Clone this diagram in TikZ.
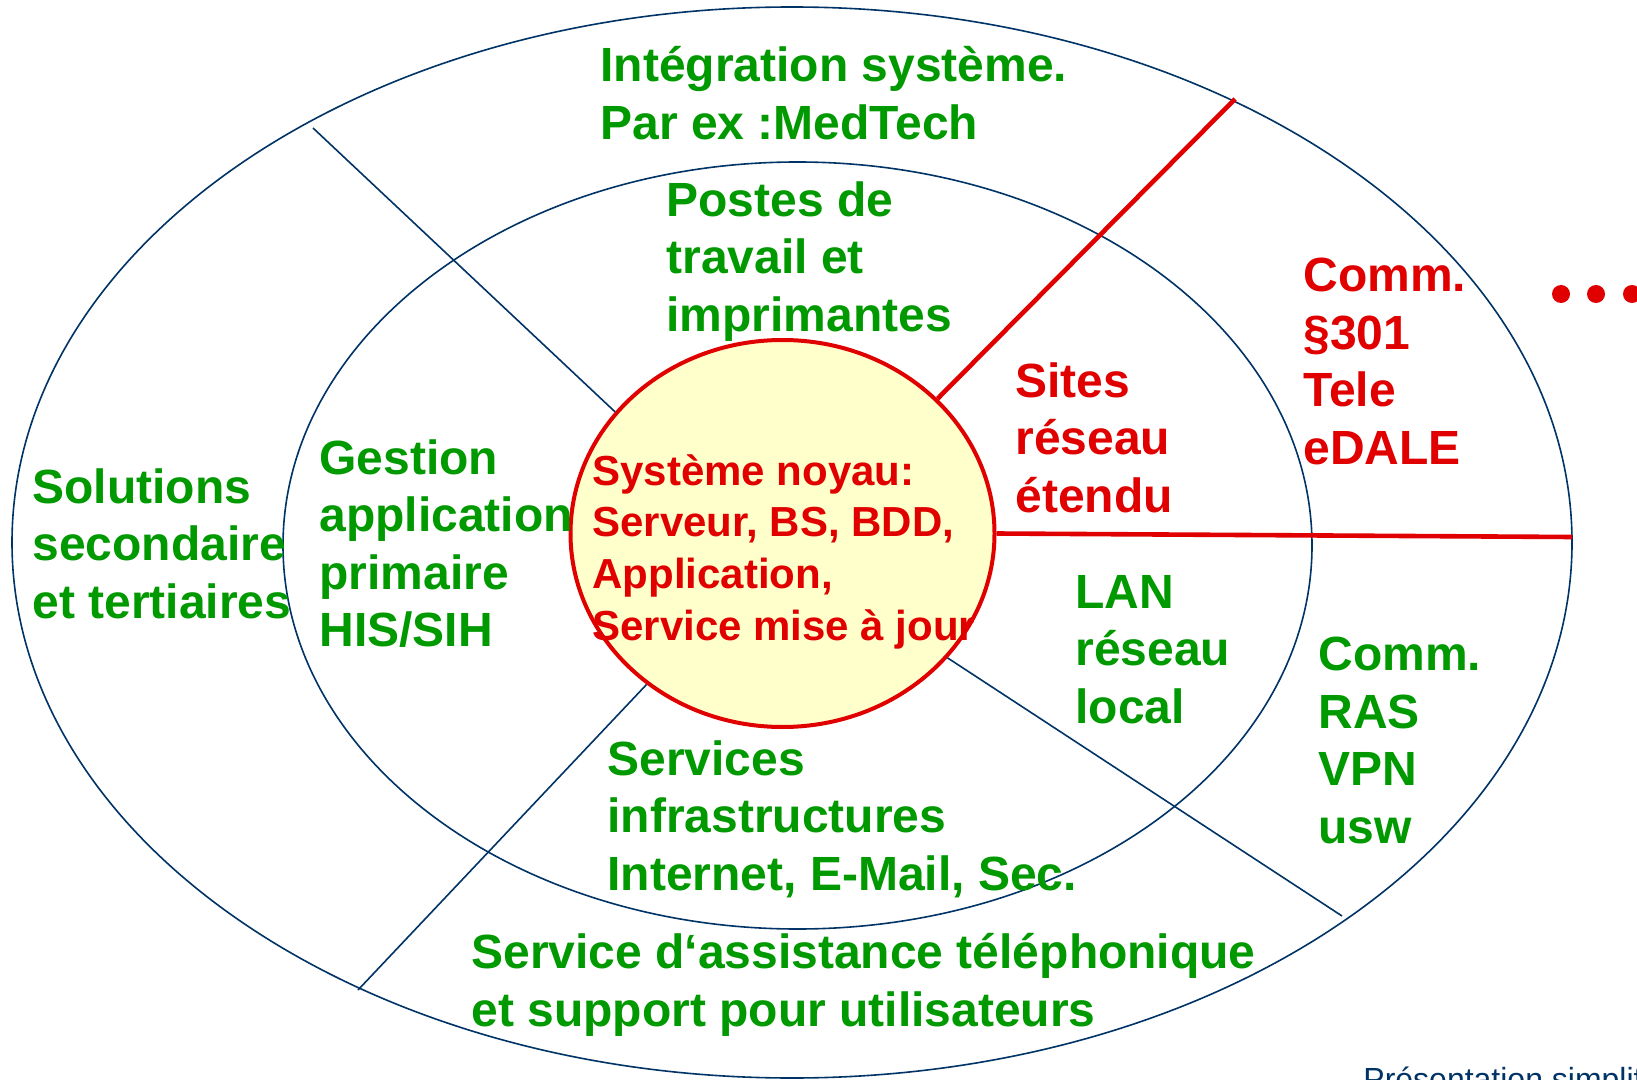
\documentclass[tikz,border=0pt]{standalone}
\usepackage{fontspec}
\setmainfont{Liberation Sans}
\usetikzlibrary{shapes.geometric}
\definecolor{navy}{RGB}{0,51,102}
\definecolor{tgreen}{RGB}{0,153,0}
\definecolor{tred}{RGB}{224,0,0}
\definecolor{coreyellow}{RGB}{255,255,204}
\begin{document}
\begin{tikzpicture}[x=0.5pt,y=-0.5pt,
  ring/.style={ellipse,draw=navy,line width=0.8pt,inner sep=0pt},
  divider/.style={draw=navy,line width=0.8pt},
  reddivider/.style={draw=tred,line width=2.3pt},
  txt/.style={anchor=north west,inner sep=0pt,align=left,font=\fontsize{24}{28.75}\selectfont\bfseries},
  gtxt/.style={txt,text=tgreen},
  rtxt/.style={txt,text=tred},
  dotnode/.style={circle,fill=tred,inner sep=0pt,minimum size=9pt}]
\useasboundingbox (0,0) rectangle (1637,1080);
\fill[white] (0,0) rectangle (1637,1080);
% rings
\node[ring,minimum width=780pt,minimum height=535.5pt] (outer) at (792,542.5) {};
\node[ring,minimum width=514.5pt,minimum height=383.5pt] (inner) at (797.5,545.5) {};
% core
\node[ellipse,draw=tred,line width=2pt,fill=coreyellow,inner sep=0pt,
      minimum width=212pt,minimum height=193.5pt] (core) at (782.5,533.5) {};
% divider end points
\coordinate (ulend) at (313,128);
\coordinate (rtend) at (1235,99);
\coordinate (hend) at (1572,537);
\coordinate (lrend) at (1342,916);
\coordinate (llend) at (358,990);
\draw[divider] (ulend) -- (core.144.4);
\draw[reddivider] (core.41.4) -- (rtend);
\draw[reddivider] (core.-0.9) -- (hend);
\draw[divider] (core.-37) -- (lrend);
\draw[divider] (core.228.7) -- (llend);
% texts
\node[gtxt] (integ) at (600,46) {Intégration système.\\Par ex :MedTech};
\node[gtxt] (postes) at (666,181) {Postes de\\travail et\\imprimantes};
\node[gtxt] (gestion) at (319,439) {Gestion\\application\\primaire\\HIS/SIH};
\node[gtxt] (solutions) at (32,468) {Solutions\\secondaire\\et tertiaires};
\node[rtxt,font=\fontsize{21}{25.85}\selectfont\bfseries] (coretxt) at (592,454)
  {Système noyau:\\Serveur, BS, BDD,\\Application,\\Service mise à jour};
\node[rtxt] (sites) at (1015,362) {Sites\\réseau\\étendu};
\node[rtxt] (commred) at (1303,258) {Comm.\\§301\\Tele\\eDALE};
\node[gtxt] (lan) at (1075,575) {LAN\\réseau\\local};
\node[gtxt] (commgreen) at (1318,637) {Comm.\\RAS\\VPN\\usw};
\node[gtxt] (services) at (607,740) {Services\\infrastructures\\Internet, E-Mail, Sec.};
\node[gtxt] (assist) at (471,933) {Service d‘assistance téléphonique\\et support pour utilisateurs};
\node[anchor=north west,inner sep=0pt,text=navy,font=\fontsize{16}{19}\selectfont] (pres) at (1363,1067) {Présentation simplif};
% dots
\node[dotnode] (dot1) at (1561,294) {};
\node[dotnode] (dot2) at (1596,294) {};
\node[dotnode] (dot3) at (1632,294) {};
\end{tikzpicture}
\end{document}
